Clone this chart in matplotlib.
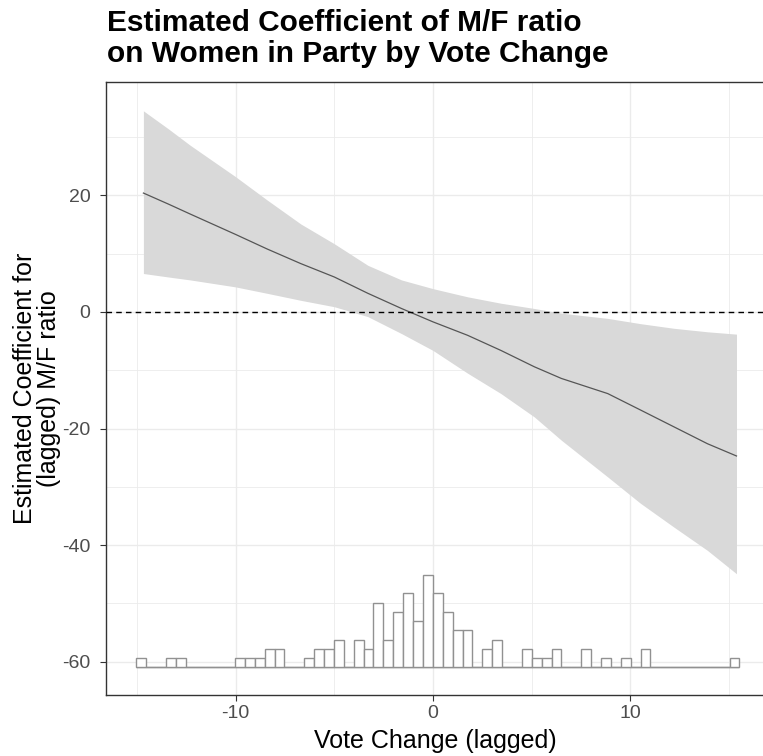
import matplotlib
matplotlib.use('Agg')
import matplotlib.pyplot as plt
import numpy as np

plt.rcParams['font.family'] = ['Liberation Sans', 'DejaVu Sans']
plt.rcParams['axes.unicode_minus'] = False

# marginal effect estimate and its confidence band
vote_change = [-14.67, -13.4, -12.3, -10.0, -8.4, -6.7, -5.0, -3.3, -1.6, 0.0,
               1.75, 3.44, 5.13, 6.5, 8.85, 10.5, 12.2, 13.9, 15.37]
coef = [20.4, 18.5, 16.8, 13.3, 10.8, 8.3, 6.0, 3.2, 0.6, -1.7,
        -4.0, -6.6, -9.4, -11.4, -14.0, -16.8, -19.7, -22.6, -24.7]
ci_upper = [34.5, 31.4, 28.6, 23.2, 19.2, 15.1, 11.7, 8.0, 5.5, 4.0,
            2.6, 1.5, 0.6, -0.2, -1.1, -2.0, -2.8, -3.4, -3.8]
ci_lower = [6.6, 6.0, 5.5, 4.3, 3.2, 2.0, 0.9, -0.8, -3.7, -6.6,
            -10.5, -14.0, -18.0, -22.0, -28.3, -32.8, -36.9, -40.9, -44.9]

# distribution of the moderator (counts per bin)
hist_start = -15.04
hist_width = 0.501
hist_counts = [1, 0, 0, 1, 1, 0, 0, 0, 0, 0,
               1, 1, 1, 2, 2, 0, 0, 1, 2, 2,
               3, 0, 3, 2, 7, 3, 6, 8, 5, 10,
               8, 6, 4, 4, 0, 2, 3, 0, 0, 2,
               1, 1, 2, 0, 0, 2, 0, 1, 0, 1,
               0, 2, 0, 0, 0, 0, 0, 0, 0, 0,
               1]
hist_base = -60.98
hist_unit = 1.588

x_ticks = [-10, 0, 10]
y_ticks = [-60, -40, -20, 0, 20]

fig = plt.figure(figsize=(7.63, 7.56), dpi=100)
ax = fig.add_axes([105.7/763, 1 - 695/756, 1 - 105.7/763 + 0.002, (695 - 81.7)/756])

# grid (theme_bw look)
for v in [-15, -10, -5, 0, 5, 10, 15]:
    ax.axvline(v, color='#EBEBEB', lw=1.0 if v % 10 == 0 else 0.6, zorder=0)
for v in [-60, -50, -40, -30, -20, -10, 0, 10, 20, 30]:
    ax.axhline(v, color='#EBEBEB', lw=1.0 if v % 20 == 0 else 0.6, zorder=0)

ax.fill_between(vote_change, ci_lower, ci_upper, color='#D9D9D9', lw=0, zorder=1)
ax.plot(vote_change, coef, color='#555555', lw=0.9, zorder=2)
ax.axhline(0, color='black', lw=1.0, ls=(0, (4, 3)), zorder=3)

edges = hist_start + hist_width * np.arange(len(hist_counts) + 1)
heights = np.array(hist_counts) * hist_unit
ax.hlines(hist_base, edges[0], edges[-1], color='#919191', lw=1.0, zorder=3)
ax.bar(edges[:-1], heights, width=hist_width, bottom=hist_base, align='edge',
       facecolor='white', edgecolor='#919191', lw=1.0, zorder=4)

ax.set_xlim(-16.58, 16.79)
ax.set_ylim(-65.7, 39.5)
ax.set_xticks(x_ticks)
ax.set_yticks(y_ticks)
ax.tick_params(axis='both', colors='#333333', labelcolor='#4D4D4D',
               labelsize=14, length=4, width=0.8, pad=3)
ax.tick_params(axis='y', pad=7)
for s in ax.spines.values():
    s.set_color('#333333')
    s.set_linewidth(1.0)

ax.set_xlabel('Vote Change (lagged)', fontsize=18, labelpad=5)
ax.set_ylabel('Estimated Coefficient for\n(lagged) M/F ratio', fontsize=18,
              labelpad=1, linespacing=1.0)

fig.text(107/763, 1 - 9/756, 'Estimated Coefficient of M/F ratio\non Women in Party by Vote Change',
         fontsize=21.5, fontweight='bold', va='top', ha='left', linespacing=1.12)

fig.savefig('out.png', dpi=100)
